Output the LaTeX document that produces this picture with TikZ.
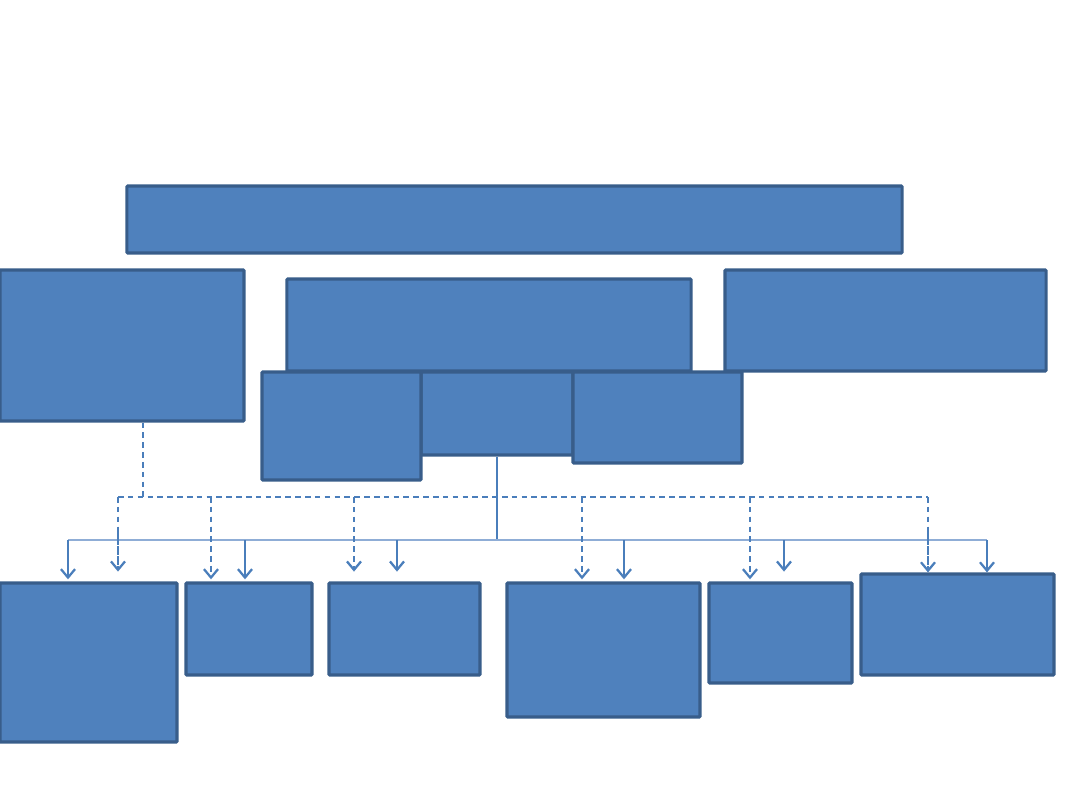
\documentclass[tikz,border=0pt]{standalone}
\usetikzlibrary{arrows.meta}
\definecolor{boxfill}{HTML}{4F81BD}
\definecolor{boxline}{HTML}{385D8A}
\definecolor{linkblue}{HTML}{4A7EBB}
\definecolor{buslight}{HTML}{8FADD6}
\tikzset{
  box/.style={draw=boxline,fill=boxfill,line width=2.2pt,inner sep=0pt,rounded corners=0.6pt},
  link/.style={draw=linkblue,line width=0.8pt},
  dashlink/.style={draw=linkblue,line width=0.8pt,dash pattern=on 4pt off 3pt},
  dashthick/.style={dashlink,line width=1.6pt},
  tip/.style={-{Straight Barb[length=6pt,width=10pt,line width=1.6pt]}}
}
\begin{document}
\begin{tikzpicture}[x=0.025cm,y=-0.025cm]
      \useasboundingbox (0,0) rectangle (1080,810);
      % top row
      \node[box,minimum width=19.375cm,minimum height=1.675cm] (head) at (514.5,219.5) {};
      \node[box,minimum width=6.1cm,minimum height=3.775cm] (left) at (122,345.5) {};
      \node[box,minimum width=10.1cm,minimum height=2.3cm] (mid) at (489,325) {};
      \node[box,minimum width=8.025cm,minimum height=2.525cm] (right) at (885.5,320.5) {};
      % under the middle box
      \node[box,minimum width=3.8cm,minimum height=2.075cm] (subb) at (497,413.5) {};
      \node[box,minimum width=3.975cm,minimum height=2.7cm] (suba) at (341.5,426) {};
      \node[box,minimum width=4.225cm,minimum height=2.275cm] (subc) at (657.5,417.5) {};
      % bottom row
      \node[box,minimum width=4.425cm,minimum height=3.975cm] (b1) at (88.5,662.5) {};
      \node[box,minimum width=3.15cm,minimum height=2.3cm] (b2) at (249,629) {};
      \node[box,minimum width=3.775cm,minimum height=2.3cm] (b3) at (404.5,629) {};
      \node[box,minimum width=4.825cm,minimum height=3.35cm] (b4) at (603.5,650) {};
      \node[box,minimum width=3.575cm,minimum height=2.5cm] (b5) at (780.5,633) {};
      \node[box,minimum width=4.825cm,minimum height=2.525cm] (b6) at (957.5,624.5) {};
      % solid bus
      \coordinate (busL) at (68,540);
      \coordinate (busR) at (987,540);
      \draw[link] (subb.south) -- (subb.south |- busL);
      \draw[link,draw=buslight] (busL) -- (busR);
      \foreach \x/\b/\s in {68/b1/1.5pt,245/b2/1.5pt,397/b3/7pt,624/b4/1.5pt,784/b5/7pt,987/b6/0pt}
        \draw[link,tip,shorten >=\s] (\x,540) -- (\x,540 |- \b.north);
      % dashed bus
      \coordinate (dashL) at (118,497);
      \coordinate (dashM) at (680,497);
      \coordinate (dashR) at (928,497);
      \draw[dashlink] (left.south -| 143,0) -- (143,497);
      \draw[dashlink] (dashL) -- (dashM);
      \draw[dashthick] (dashM) -- (dashR);
      \foreach \x/\b/\s in {118/b1/7pt,211/b2/1.5pt,354/b3/7pt,582/b4/1.5pt,750/b5/1.5pt,928/b6/0pt}
        \draw[dashlink,tip,shorten >=\s] (\x,497) -- (\x,497 |- \b.north);
      \draw[dashthick] (211,497) -- (211,535);
      \draw[dashthick] (750,497) -- (750,535);
      \draw[dashthick] (118,530) -- (118,566);
      \draw[dashthick] (928,530) -- (928,566);
\end{tikzpicture}
\end{document}
